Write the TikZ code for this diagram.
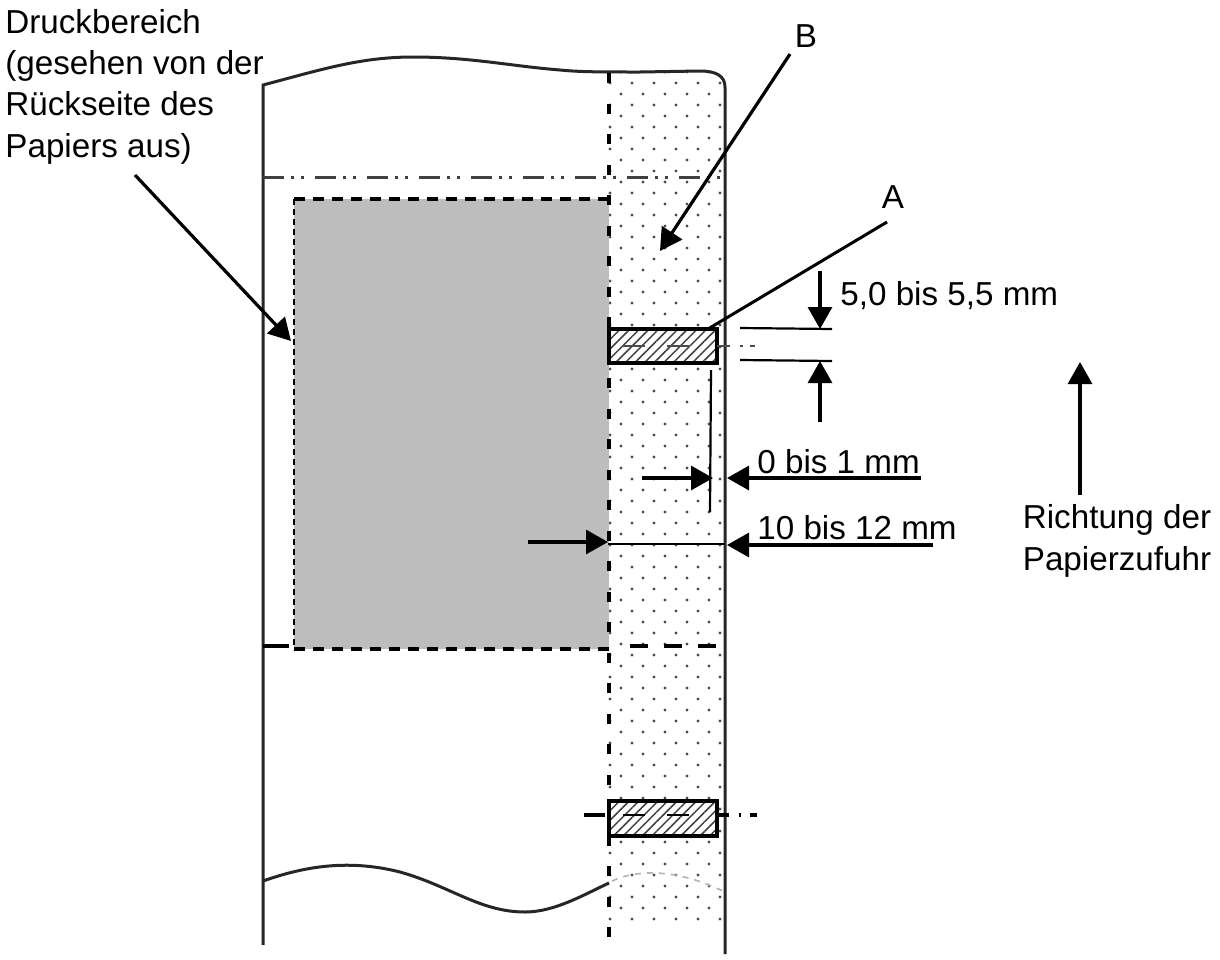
\documentclass[tikz,border=0pt]{standalone}
\usepackage{fontspec}
\setmainfont{Liberation Sans}
\usetikzlibrary{arrows.meta,patterns.meta}
\tikzset{
	blatt/.style={line width=1.5pt, black!85},
	pfeil/.style={line width=1.6pt, -{Triangle[length=11pt,width=12pt]}},
	masz/.style={line width=1.1pt},
	randlinie/.style={line width=1.9pt, dash pattern=on 5pt off 10.25pt},
	mittellinie/.style={line width=1.5pt, black!75, dash pattern=on 10.5pt off 3.5pt on 1.5pt off 3.5pt on 1.5pt off 5.5pt},
	schlitz/.style={line width=1.8pt, fill=white},
	schrift/.style={font=\fontsize{16.6}{20.6}\selectfont, inner sep=0pt}
}
\begin{document}
\begin{tikzpicture}[x=0.5pt,y=-0.5pt]
	\useasboundingbox (0,0) rectangle (1220,959);
	% punkte im randbereich
	\foreach \r in {0,...,77} {
		\pgfmathsetmacro{\yy}{72+11*\r}
		\pgfmathsetmacro{\xa}{isodd(\r) ? 610 : 621}
		\foreach \k in {0,...,5} {
			\fill [black!70] ({\xa+22*\k},\yy) circle(0.85pt);
		}
	}
	\fill [white] (724,60) rectangle (735,930);
	% druckbereich
	\fill [black!26] (294,199) rectangle (609,649);
	\draw [line width=2pt, dash pattern=on 5.5pt off 4pt] (294,199) -- (609,199);
	\draw [line width=2pt, dash pattern=on 5.5pt off 4pt] (294,649) -- (609,649);
	\draw [line width=1.2pt, dash pattern=on 3pt off 2pt] (294,199) -- (294,649);
	% papier
	\draw [blatt] (263,945) -- (263,85) .. controls (320,70) and (360,57) .. (413,57) .. controls (470,57) and (510,66) .. (560,70) .. controls (580,72) and (600,72) .. (640,72) -- (700,71) .. controls (716,71) and (725,76) .. (725,87) -- (725,954);
	\draw [blatt] (263,881) .. controls (300,868) and (345,858) .. (400,872) .. controls (450,886) and (480,912) .. (525,912) .. controls (555,912) and (585,894) .. (609,883);
	\draw [black!30, line width=0.8pt, dashed] (612,881) .. controls (640,868) and (680,870) .. (725,892);
	\draw [randlinie] (609,73) -- (609,948);
	\draw [mittellinie] (263,177) -- (725,177);
	\draw [line width=1.8pt, dash pattern=on 13pt off 3.5pt] (263,646) -- (290,646);
	\draw [line width=1.8pt, dash pattern=on 9pt off 8pt] (630,646) -- (722,646);
	% schlitze
	\draw [schlitz] (609,329) rectangle (717,363);
	\fill [pattern={Lines[angle=45,distance=3.4pt,line width=0.75pt]}, pattern color=black!75] (609,329) rectangle (717,363);
	\draw [line width=1.8pt] (609,329) rectangle (717,363);
	\draw [schlitz] (609,801) rectangle (717,836);
	\fill [pattern={Lines[angle=45,distance=3.4pt,line width=0.75pt]}, pattern color=black!75] (609,801) rectangle (717,836);
	\draw [line width=2pt] (609,801) rectangle (717,836);
	% mittellinien der schlitze
	\draw [masz, black!70, dash pattern=on 11pt off 11pt] (623,346) -- (689,346);
	\draw [masz, black!70, dash pattern=on 6.5pt off 5pt on 1.5pt off 3.5pt on 2.5pt] (717,346) -- (755,346);
	\draw [line width=1.8pt] (584,815) -- (605,815);
	\draw [line width=1.4pt, dash pattern=on 11pt off 11pt] (623,815) -- (689,815);
	\draw [line width=1.8pt, dash pattern=on 6pt off 5pt on 1pt off 4.5pt on 3.5pt] (717,815) -- (757,815);
	% beschriftung
	\node [schrift, anchor=north west, align=left] (druckber) at (5,9) {Druckbereich\\(gesehen von der\\Rückseite des\\Papiers aus)};
	\node [schrift] (labelB) at (806,36) {B};
	\node [schrift] (labelA) at (893,197) {A};
	\node [schrift, anchor=west] (breite) at (840,296) {5,0 bis 5,5 mm};
	\node [schrift, anchor=west] (abstand) at (757,462) {0 bis 1 mm};
	\node [schrift, anchor=west] (rand) at (757,528) {10 bis 12 mm};
	\node [schrift, align=center] (richtung) at (1117,541) {Richtung der\\Papierzufuhr};
	% pfeile
	\coordinate (druckstart) at (135,175);
	\coordinate (druckziel) at (291,341);
	\coordinate (bstart) at (790,54);
	\coordinate (bziel) at (660,251);
	\coordinate (astart) at (887,222);
	\coordinate (aziel) at (708,329);
	\coordinate (obenstart) at (820,271);
	\coordinate (obenziel) at (820,329);
	\coordinate (untenstart) at (820,422);
	\coordinate (untenziel) at (820,361);
	\coordinate (innenstart) at (642,478);
	\coordinate (innenziel) at (713,478);
	\coordinate (aussenstart) at (921,478);
	\coordinate (aussenziel) at (727,478);
	\coordinate (grenzestart) at (528,542);
	\coordinate (grenzeziel) at (608,542);
	\coordinate (kantestart) at (933,545);
	\coordinate (kanteziel) at (727,545);
	\coordinate (zufuhrstart) at (1080,495);
	\coordinate (zufuhrziel) at (1080,362);
	\draw [pfeil] (druckstart) -- (druckziel);
	\draw [pfeil] (bstart) -- (bziel);
	\draw [line width=1.5pt] (astart) -- (aziel);
	\draw [pfeil] (obenstart) -- (obenziel);
	\draw [pfeil] (untenstart) -- (untenziel);
	\draw [masz] (740,328) -- (832,329);
	\draw [masz] (740,360) -- (832,361);
	\draw [masz] (711,370) -- (710,512);
	\draw [pfeil] (innenstart) -- (innenziel);
	\draw [pfeil] (aussenstart) -- (aussenziel);
	\draw [pfeil] (grenzestart) -- (grenzeziel);
	\draw [masz] (608,544) -- (725,544);
	\draw [pfeil] (kantestart) -- (kanteziel);
	\draw [pfeil] (zufuhrstart) -- (zufuhrziel);
\end{tikzpicture}
\end{document}
